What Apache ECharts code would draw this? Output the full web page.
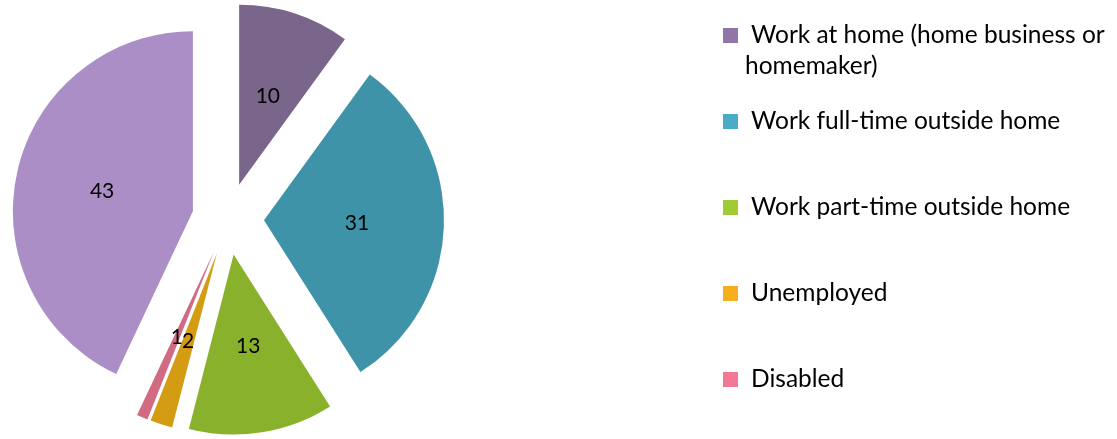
<!DOCTYPE html>
<html>
<head>
<meta charset="utf-8">
<script src="https://cdn.jsdelivr.net/npm/echarts@6/dist/echarts.min.js"></script>
<style>
html, body { margin: 0; padding: 0; background: #fff; }
#chart { width: 1117px; height: 439px; }
</style>
</head>
<body>
<div id="chart"></div>
<script type="text/javascript">
    // slices in clockwise order from 12 o'clock
    var categories = [
        'Work at home (home business or\nhomemaker)',
        'Work full-time outside home',
        'Work part-time outside home',
        'Unemployed',
        'Disabled',
        'Other'
    ];
    var values = [10, 31, 13, 2, 1, 43];
    var sliceColors = ['#7a668a', '#3f93a9', '#8ab12b', '#d49c12', '#d06b83', '#ab8ec6'];
    var legendColors = ['#8f76a8', '#4aacc6', '#a1cb35', '#f6ae21', '#f27895'];

    var font = 'Lato, "Open Sans", sans-serif';
    var legendFontSize = 24.5;

    var pieData = [];
    for (var i = 0; i < values.length; i++) {
        pieData.push({
            name: categories[i],
            value: values[i],
            selected: true,
            itemStyle: { color: sliceColors[i] }
        });
    }

    var legendItem = function (i) {
        return { name: categories[i], itemStyle: { color: legendColors[i] } };
    };

    var legendBase = {
        orient: 'vertical',
        left: 723,
        padding: 0,
        icon: 'rect',
        itemWidth: 15,
        itemHeight: 15,
        selectedMode: false,
        // only the first line goes in the legend row, the wrap is drawn below
        formatter: function (name) { return name.split('\n')[0]; },
        textStyle: { fontFamily: font, fontSize: legendFontSize, color: '#000', padding: [0, 0, 0, 8] }
    };

    var myChart = echarts.init(document.getElementById('chart'));
    var option = {
        animation: false,
        backgroundColor: '#fff',
        legend: [
            echarts.util.merge({ top: 23, itemGap: 0, data: [legendItem(0)] }, legendBase),
            echarts.util.merge({ top: 109, itemGap: 61, data: [legendItem(1), legendItem(2), legendItem(3), legendItem(4)] }, legendBase)
        ],
        graphic: [
            {
                type: 'text',
                left: 745,
                top: 54,
                style: {
                    text: categories[0].split('\n')[1],
                    fontFamily: font,
                    fontSize: legendFontSize,
                    fill: '#000'
                }
            }
        ],
        series: [
            {
                type: 'pie',
                center: [228, 219],
                radius: 180,
                startAngle: 90,
                clockwise: true,
                selectedMode: 'multiple',
                selectedOffset: 36,
                avoidLabelOverlap: false,
                labelLayout: { hideOverlap: false },
                label: {
                    show: true,
                    position: 'inside',
                    formatter: '{c}',
                    fontFamily: font,
                    fontSize: 21,
                    color: '#000'
                },
                labelLine: { show: false },
                emphasis: { disabled: true },
                data: pieData
            }
        ]
    };
    myChart.setOption(option);
</script>
</body>
</html>
